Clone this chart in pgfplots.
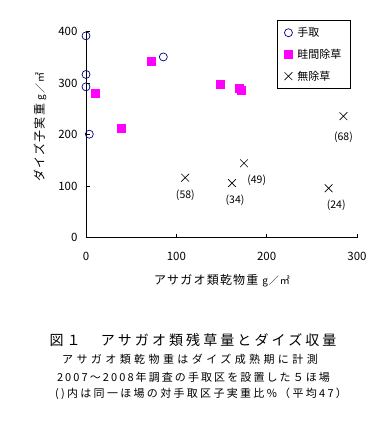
\documentclass[border=0pt]{standalone}
\usepackage{fontspec}
\setmainfont{Noto Sans CJK JP}
\usepackage{pgfplots}
\pgfplotsset{compat=1.18}
\definecolor{navy}{RGB}{0,0,128}
\definecolor{mag}{RGB}{255,0,255}
\begin{document}
\begin{tikzpicture}
\path[use as bounding box] (0pt,0pt) rectangle (381pt,-431pt);
\begin{axis}[
  at={(86pt,-237.7pt)}, anchor=south west,
  scale only axis, width=271pt, height=206pt,
  xmin=0, xmax=300, ymin=0, ymax=400,
  axis lines=left, axis line style={-, line width=0.8pt},
  xtick={0,100,200,300}, ytick={0,100,200,300,400},
  tick align=inside, major tick length=3.5pt,
  tick style={line width=0.8pt, black},
  xticklabel style={yshift=-11pt},
  yticklabel style={xshift=-5pt},
  /pgf/number format/assume math mode=true,
  ticklabel style={font=\fontsize{11.5}{12}\selectfont},
  clip=false,
  legend style={at={(rel axis cs:0.705,1.057)}, anchor=north west,
    draw=black, line width=0.8pt, font=\fontsize{11}{12}\selectfont,
    row sep=7pt, inner xsep=7pt, inner ysep=5pt, cells={anchor=west},
    /tikz/every odd column/.append style={column sep=3pt}},
  legend image code/.code={\draw[#1] plot coordinates {(0.15cm,0cm)};},
]
\addplot[only marks, mark=o, mark size=4pt, navy, mark options={line width=0.7pt}] coordinates {
(0,392) (0,317) (0,293) (3.7,201) (85.6,351)};
\addlegendentry{手取}
\addplot[only marks, mark=square*, mark size=4pt, mag] coordinates {
(10.3,280) (39.5,213) (72.3,342) (148.3,298) (169.8,290) (171.5,287)};
\addlegendentry{畦間除草}
\addplot[only marks, mark=x, mark size=5.5pt, black, mark options={line width=0.6pt}] coordinates {
(109.8,116.5) (161.6,106) (174.9,144.5) (268.6,96) (285,236)};
\addlegendentry{無除草}
\node[font=\fontsize{10.5}{11}\selectfont] at (axis cs:110,82) {(58)};
\node[font=\fontsize{10.5}{11}\selectfont] at (axis cs:165,73) {(34)};
\node[font=\fontsize{10.5}{11}\selectfont] at (axis cs:189,111) {(49)};
\node[font=\fontsize{10.5}{11}\selectfont] at (axis cs:277,64) {(24)};
\node[font=\fontsize{10.5}{11}\selectfont] at (axis cs:285,196) {(68)};
\end{axis}
\node[font=\fontsize{12}{13}\selectfont\addfontfeature{LetterSpace=10}] at (222pt,-281pt) {アサガオ類乾物重\ {\fontsize{10}{11}\selectfont g／㎡}};
\node[font=\fontsize{12}{13}\selectfont\addfontfeature{LetterSpace=10}, rotate=90] at (40pt,-127pt) {ダイズ子実重\ {\fontsize{10}{11}\selectfont g／㎡}};
\node[font=\fontsize{14}{15}\selectfont\addfontfeature{LetterSpace=22}] at (193pt,-340pt) {図１　アサガオ類残草量とダイズ収量};
\node[font=\fontsize{11}{12}\selectfont\addfontfeature{LetterSpace=31}] at (190pt,-359pt) {アサガオ類乾物重はダイズ成熟期に計測};
\node[font=\fontsize{11}{12}\selectfont\addfontfeature{LetterSpace=19}] at (193.5pt,-377pt) {2007～2008年調査の手取区を設置した５ほ場};
\node[font=\fontsize{11}{12}\selectfont\addfontfeature{LetterSpace=21}] at (201pt,-394pt) {()内は同一ほ場の対手取区子実重比\%（平均47）};
\end{tikzpicture}
\end{document}
